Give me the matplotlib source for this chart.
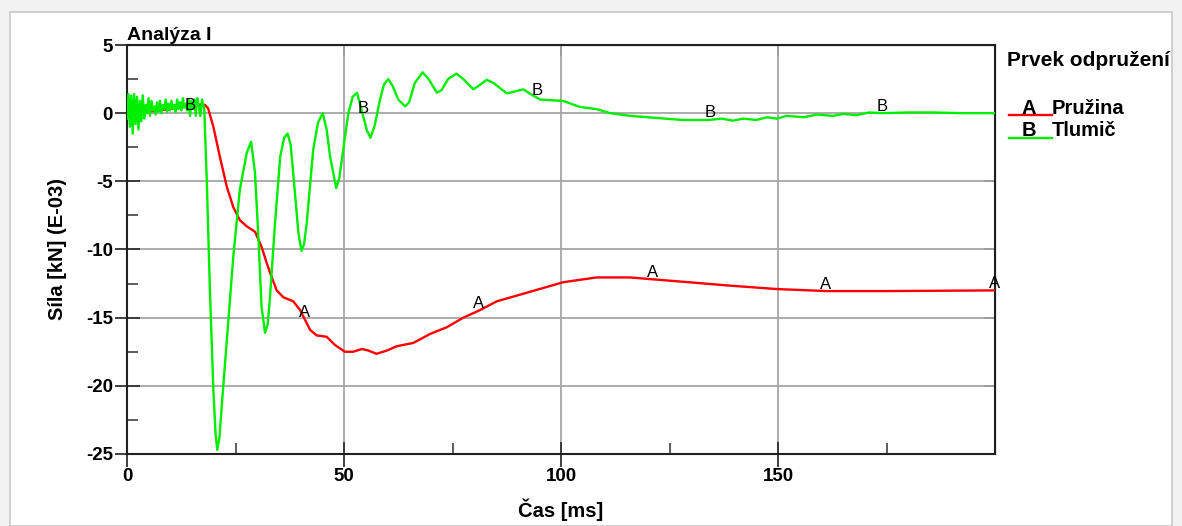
import matplotlib
matplotlib.use("Agg")
import matplotlib.pyplot as plt
import numpy as np
from matplotlib.lines import Line2D
from matplotlib.patches import Rectangle

plt.rcParams['font.family'] = ['Liberation Sans', 'DejaVu Sans']
plt.rcParams['axes.unicode_minus'] = False

# --- data (cas [ms], sila [kN] E-03) ---
# tlumic: high frequency noise at start, sampled every 0.33 ms
noise_step = 0.33
tlumic_noise = [-0.4, 1.4, -1.0, 1.3, -1.5, 1.4, -0.8, 1.2, -1.2, 0.9, -0.6, 1.3,
                -0.4, 0.6, 0.0, 1.1, -0.2, 0.9, 0.2, 0.5, -0.1, 0.8, 0.1, 0.9,
                0.0, 0.6, 0.3, 1.0, 0.1, 0.7, 0.2, 0.9, 0.3, 0.6, 0.1, 1.0,
                0.3, 0.8, 0.2, 1.1, 0.4, 0.7, 0.2, 1.0, -0.2, 0.9, 0.3, 1.0,
                -0.2, 1.1, 0.6]

tlumic_t = [16.9, 17.3, 17.8, 18.4, 19.1, 19.9, 20.4, 20.8, 21.3, 21.8, 23.0, 24.5,
            26.0, 27.6, 28.6, 29.5, 30.3, 31.0, 31.8, 32.4, 32.9, 34.1, 35.3, 36.2,
            37.0, 37.7, 38.3, 39.5, 40.2, 40.8, 41.4, 42.9, 44.0, 45.1, 46.0, 46.8,
            48.2, 48.9, 49.5, 51.0, 52.0, 53.0, 54.5, 55.3, 56.1, 57.0, 58.3, 59.2,
            60.2, 61.2, 62.5, 64.1, 65.0, 66.3, 68.1, 69.5, 71.4, 72.5, 74.0, 75.9,
            77.5, 79.8, 81.0, 82.9, 84.5, 87.5, 89.5, 91.3, 93.0, 95.2, 97.5, 100.5,
            104.4, 108.2, 111.3, 116.0, 122.0, 128.0, 134.0, 137.0, 139.6, 142.0,
            145.0, 147.5, 149.7, 152.0, 156.0, 159.0, 162.7, 165.0, 168.0, 171.0,
            174.0, 180.0, 185.8, 192.0, 200.0]
tlumic_v = [-0.2, 1.0, 0.3, -5.1, -13.0, -20.3, -23.5, -24.7, -23.8, -21.6, -16.7, -10.5,
            -5.6, -2.9, -2.1, -4.4, -9.3, -14.2, -16.1, -15.5, -13.7, -8.1, -3.2, -1.8,
            -1.5, -2.3, -4.4, -8.8, -10.1, -9.6, -8.1, -2.7, -0.7, 0.0, -1.2, -3.2,
            -5.5, -4.8, -3.4, 0.0, 1.2, 1.5, -0.3, -1.3, -1.8, -1.0, 1.0, 2.1,
            2.5, 2.0, 1.0, 0.5, 0.8, 2.2, 3.0, 2.5, 1.5, 1.7, 2.5, 2.9,
            2.5, 1.75, 2.0, 2.45, 2.2, 1.45, 1.6, 1.75, 1.4, 1.0, 0.95, 0.9,
            0.45, 0.3, 0.0, -0.2, -0.35, -0.5, -0.5, -0.4, -0.55, -0.4,
            -0.5, -0.3, -0.4, -0.2, -0.3, -0.1, -0.2, -0.05, -0.15, 0.05,
            0.0, 0.05, 0.05, 0.0, 0.0]

pruzina_t = [0, 2, 4.5, 9.1, 13.0, 17.2, 18.0, 18.7, 19.9, 21.4, 23.0, 24.5, 26.0,
             27.6, 29.5, 31.0, 32.2, 33.3, 34.5, 36.0, 38.3, 39.9, 42.2, 43.7, 46.0,
             47.9, 50.2, 52.1, 54.1, 55.5, 57.5, 60.0, 62.1, 66.0, 69.8, 73.7, 77.5,
             81.3, 85.2, 92.9, 100.5, 108.2, 115.9, 123.6, 131.3, 138.9, 149.7, 161.2,
             175.0, 200.0]
pruzina_v = [-0.27, -0.05, 0.1, 0.27, 0.46, 0.64, 0.6, 0.34, -1.0, -3.2, -5.4, -6.9, -7.85,
             -8.3, -8.7, -9.8, -11.0, -12.0, -13.0, -13.5, -13.8, -14.45, -15.9, -16.3, -16.4,
             -17.0, -17.5, -17.5, -17.3, -17.4, -17.65, -17.4, -17.1, -16.85, -16.2, -15.7, -15.0,
             -14.45, -13.8, -13.1, -12.4, -12.05, -12.05, -12.25, -12.45, -12.65, -12.9, -13.05,
             -13.05, -13.0]

# curve letter marks
mark_a_t = [41, 81, 121, 161, 200]
mark_b_t = [14.6, 54.4, 94.5, 134.3, 174.0]

xticks = [0, 50, 100, 150]
yticks = [5, 0, -5, -10, -15, -20, -25]

red = '#ff0000'
green = '#00ee00'

t_b = np.concatenate([np.arange(len(tlumic_noise)) * noise_step, tlumic_t])
v_b = np.concatenate([tlumic_noise, tlumic_v])

fig = plt.figure(figsize=(11.82, 5.26), dpi=100, facecolor='#f2f2f2')
fig.patches.append(Rectangle((10 / 1182, 0), 1162 / 1182, 514 / 526, transform=fig.transFigure,
                             facecolor='white', edgecolor='#c8c8c8', lw=1.2, zorder=-10))

ax = fig.add_axes([127 / 1182, 1 - 454 / 526, 868 / 1182, 409 / 526])
ax.set_xlim(0, 200)
ax.set_ylim(-25, 5)

ax.plot(pruzina_t, pruzina_v, color=red, lw=1.7, zorder=3)
ax.plot(t_b, v_b, color=green, lw=1.7, zorder=4)

for t in mark_a_t:
    ax.annotate('A', (t, np.interp(t, pruzina_t, pruzina_v)), xytext=(0, 5),
                textcoords='offset points', ha='center', va='center', fontsize=12,
                annotation_clip=False, zorder=5)
for t in mark_b_t:
    ax.annotate('B', (t, np.interp(t, t_b, v_b)), xytext=(0, 5),
                textcoords='offset points', ha='center', va='center', fontsize=12,
                annotation_clip=False, zorder=5)

ax.set_xticks(xticks)
ax.set_yticks(yticks)
ax.set_xticks([25, 75, 125, 175], minor=True)
ax.set_yticks(np.arange(-22.5, 5, 5), minor=True)
ax.grid(True, which='major', color='#a6a6a6', lw=1.3)
ax.tick_params(which='major', direction='inout', length=18, width=1.3, color='#303030',
               labelsize=13.5)
ax.tick_params(which='minor', direction='in', length=8, width=1.1, color='#303030')
ax.tick_params(axis='x', which='major', pad=1)
ax.tick_params(axis='y', which='major', pad=1)
for lab in ax.get_xticklabels() + ax.get_yticklabels():
    lab.set_fontweight('bold')
for s in ax.spines.values():
    s.set_linewidth(1.5)
    s.set_color('#202020')

# inward ticks on top and right
top = ax.secondary_xaxis('top')
top.set_xticks(xticks)
top.tick_params(direction='in', length=8, width=1.3, color='#303030', labeltop=False)
right = ax.secondary_yaxis('right')
right.set_yticks(yticks)
right.tick_params(direction='in', length=8, width=1.3, color='#303030', labelright=False)

ax.set_xlabel('Čas [ms]', fontsize=14.5, fontweight='bold', labelpad=10)
ax.set_ylabel('Síla [kN] (E-03)', fontsize=14.5, fontweight='bold', labelpad=14)
ax.text(0, 1.003, 'Analýza I', transform=ax.transAxes, fontsize=14, fontweight='bold',
        ha='left', va='bottom')

# legend drawn by hand
fig.text(1007 / 1182, 1 - 61 / 526, 'Prvek odpružení', fontsize=15, fontweight='bold',
         ha='left', va='center')
for name, letter, col, y in [('Pružina', 'A', red, 108), ('Tlumič', 'B', green, 131)]:
    fig.add_artist(Line2D([1009 / 1182, 1052 / 1182], [1 - (y + 7) / 526] * 2,
                          color=col, lw=1.7, transform=fig.transFigure))
    fig.text(1029 / 1182, 1 - y / 526, letter, fontsize=14.5, fontweight='bold',
             ha='center', va='center')
    fig.text(1052 / 1182, 1 - y / 526, name, fontsize=14.5, fontweight='bold',
             ha='left', va='center')

fig.savefig('out.png', dpi=100, facecolor=fig.get_facecolor())
